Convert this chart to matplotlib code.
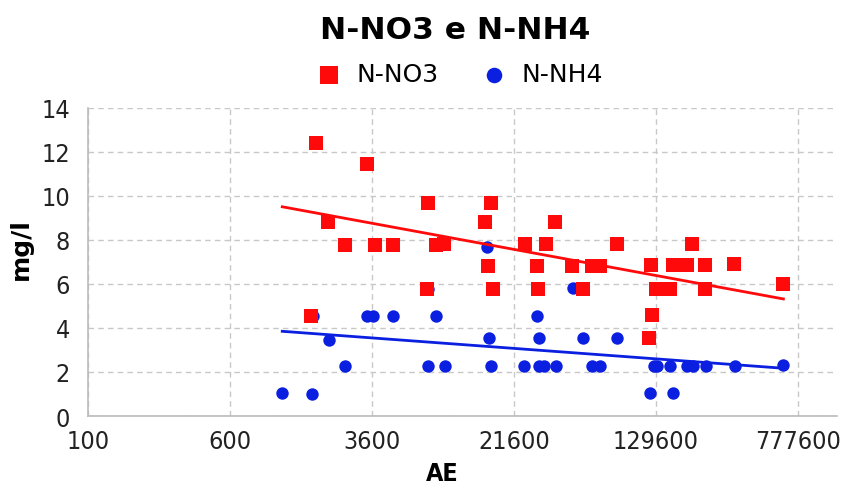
import numpy as np
import matplotlib
matplotlib.use('Agg')
import matplotlib.pyplot as plt
from matplotlib.ticker import FixedLocator, NullLocator

# valori (AE in scala log base 6)
no3_ae = [1768, 3392, 7333, 2073, 2571, 3738, 4710, 8080, 8930, 7175, 1666,
          16100, 15040, 15560, 16630, 24700, 32300, 36400, 29000, 29200,
          44850, 51800, 57400, 64000, 78900, 121100, 129600, 123300, 119200,
          154800, 159800, 192200, 204300, 241400, 239600, 346500, 646100]
no3_val = [12.4, 11.45, 9.7, 8.8, 7.77, 7.77, 7.77, 7.77, 7.8, 5.77, 4.55,
           9.7, 8.8, 6.8, 5.75, 7.8, 7.8, 8.8, 6.8, 5.75,
           6.8, 5.75, 6.8, 6.8, 7.8, 6.85, 5.75, 4.6, 3.55,
           5.75, 6.85, 6.85, 7.8, 6.85, 5.75, 6.9, 6.0]

nh4_ae = [1160, 1681, 2093, 2571, 1718, 3392, 3634, 4677, 8080, 7333, 7333,
          9010, 15370, 15700, 16220, 24500, 28780, 29500, 29500, 31500,
          36700, 45300, 51300, 57400, 64000, 79600, 120200, 126400, 131700,
          161300, 154800, 192200, 205800, 243500, 349800, 646100]
nh4_val = [1.05, 1.02, 3.45, 2.25, 4.55, 4.55, 4.55, 4.55, 4.55, 5.75, 2.25,
           2.25, 7.7, 3.55, 2.25, 2.25, 4.55, 3.55, 2.25, 2.25,
           2.25, 5.8, 3.55, 2.25, 2.25, 3.55, 1.03, 2.25, 2.25,
           1.03, 2.25, 2.25, 2.25, 2.25, 2.25, 2.3]

# linee di tendenza (inizio / fine)
trend_ae = [1160, 646100]
no3_trend = [9.51, 5.32]
nh4_trend = [3.85, 2.17]

xticks = [100, 600, 3600, 21600, 129600, 777600]
yticks = [0, 2, 4, 6, 8, 10, 12, 14]

red = '#ff0a0a'
blue = '#0a1fe0'
cond = dict(family='DejaVu Sans', stretch='condensed')

fig = plt.figure(figsize=(8.51, 4.85), dpi=100)
ax = fig.add_axes([0.1034, 0.1402, 0.8801, 0.6351])

ax.scatter(no3_ae, no3_val, marker='s', s=105, color=red, label='N-NO3', zorder=3, linewidths=0)
ax.scatter(nh4_ae, nh4_val, marker='o', s=80, color=blue, label='N-NH4', zorder=2, linewidths=0)

ax.plot(trend_ae, no3_trend, color=red, lw=2, zorder=4)
ax.plot(trend_ae, nh4_trend, color=blue, lw=2, zorder=4)

ax.set_xscale('log')
ax.set_xlim(100, 1.27e6)
ax.set_ylim(0, 14)
ax.xaxis.set_major_locator(FixedLocator(xticks))
ax.xaxis.set_minor_locator(NullLocator())
ax.set_xticklabels([str(t) for t in xticks])
ax.set_yticks(yticks)
ax.tick_params(length=0, labelsize=18, colors='#222222')
ax.tick_params(axis='x', pad=9)
ax.tick_params(axis='y', pad=13)
for lab in ax.get_xticklabels() + ax.get_yticklabels():
    lab.set_fontstretch('condensed')

ax.grid(True, color='#c8c8c8', linestyle=(0, (4, 3)), lw=1)
ax.set_axisbelow(True)
for s in ['top', 'right']:
    ax.spines[s].set_visible(False)
for s in ['left', 'bottom']:
    ax.spines[s].set_color('#bbbbbb')
    ax.spines[s].set_linewidth(1.2)

ax.set_xlabel('AE', fontsize=18, fontweight='bold', **cond)
ax.xaxis.set_label_coords(0.473, -0.146)
ax.set_ylabel('mg/l', fontsize=18, fontweight='bold')
ax.yaxis.set_label_coords(-0.073, 0.545)

fig.text(0.535, 0.938, 'N-NO3 e N-NH4', ha='center', va='center',
         fontsize=22.5, fontweight='bold')
leg = fig.legend(loc='center', bbox_to_anchor=(0.540, 0.845), ncol=2, frameon=False,
                 prop=dict(size=18), handlelength=1.0, handletextpad=0.6,
                 columnspacing=1.7, markerscale=1.25)

fig.savefig('out.png', dpi=100)
